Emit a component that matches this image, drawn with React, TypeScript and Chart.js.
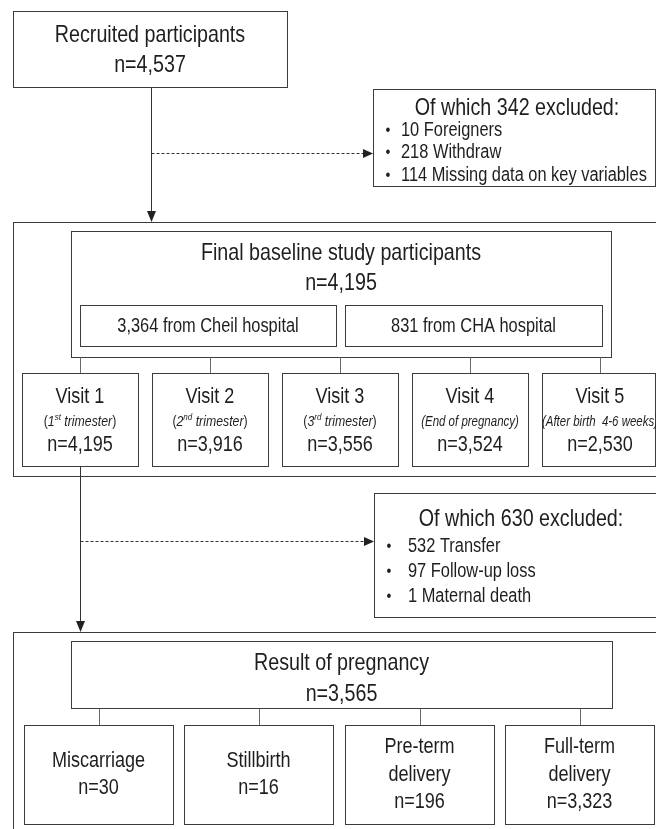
import { useEffect, useRef } from "react";
import { Chart, registerables } from "chart.js";

Chart.register(...registerables);

// ---------------- DATA ----------------
const recruitedTitle = "Recruited participants";
const recruitedCount = 4537;

const excludedFirstCounts = [10, 218, 114];
const excludedFirstReasons = ["Foreigners", "Withdraw", "Missing data on key variables"];

const baselineTitle = "Final baseline study participants";
const baselineCount = 4195;
const hospitalCounts = [3364, 831];
const hospitalNames = ["Cheil hospital", "CHA hospital"];

const visitLabels = ["Visit 1", "Visit 2", "Visit 3", "Visit 4", "Visit 5"];
const visitNotes = ["1^st^ trimester", "2^nd^ trimester", "3^rd^ trimester", "End of pregnancy", "After birth  4-6 weeks"];
const visitCounts = [4195, 3916, 3556, 3524, 2530];

const excludedSecondCounts = [532, 97, 1];
const excludedSecondReasons = ["Transfer", "Follow-up loss", "Maternal death"];

const resultTitle = "Result of pregnancy";
const resultCount = 3565;
const outcomeLabels = [["Miscarriage"], ["Stillbirth"], ["Pre-term", "delivery"], ["Full-term", "delivery"]];
const outcomeCounts = [30, 16, 196, 3323];

// ---------------- LAYOUT / STYLE ----------------
const W = 656;
const H = 829;
const SX = 0.82; // condensed (narrow) text
const FONT = '"Liberation Sans", Arial, sans-serif';
const TEXT = "#1e1e1e";
const BOX = "#3c3c3c";
const CONN = "#6a6a6a";

const L = {
  recruit: [13, 11, 287, 87],
  excl1: [373, 89, 655, 186],
  cont2: [13, 222, 700, 476],
  final: [71, 231, 611, 357],
  hosp: [[80, 305, 336, 346], [345, 305, 602, 346]],
  visitX0: 22, visitStep: 130, visitW: 116, visitY: [373, 466],
  excl2: [374, 493, 700, 617],
  cont3: [13, 632, 700, 900],
  result: [71, 641, 612, 708],
  outX0: [24, 184, 345, 505], outW: 149, outY: [725, 824],
};

const fmt = (n: number) => n.toLocaleString("en-US");
const sum = (a: number[]) => a.reduce((s, v) => s + v, 0);

type Run = { t: string; italic?: boolean; sup?: boolean };

function fontStr(size: number, italic?: boolean) {
  return `${italic ? "italic " : ""}${size}px ${FONT}`;
}

function drawRuns(ctx: CanvasRenderingContext2D, runs: Run[], x: number, y: number, size: number, align: "center" | "left" = "center") {
  const widths = runs.map((r) => {
    ctx.font = fontStr(r.sup ? size * 0.65 : size, r.italic);
    return ctx.measureText(r.t).width * SX;
  });
  const total = sum(widths);
  let cx = align === "center" ? x - total / 2 : x;
  runs.forEach((r, i) => {
    ctx.save();
    ctx.font = fontStr(r.sup ? size * 0.65 : size, r.italic);
    ctx.fillStyle = TEXT;
    ctx.textAlign = "left";
    ctx.textBaseline = "middle";
    ctx.translate(cx, y + (r.sup ? -size * 0.3 : 0));
    ctx.scale(SX, 1);
    ctx.fillText(r.t, 0, 0);
    ctx.restore();
    cx += widths[i];
  });
}

function noteRuns(note: string): Run[] {
  const parts = note.split("^");
  const hasSup = parts.length > 1;
  const runs: Run[] = [{ t: "(", italic: !hasSup }];
  parts.forEach((p, i) => {
    if (p) runs.push({ t: p, italic: true, sup: i % 2 === 1 });
  });
  runs.push({ t: ")", italic: !hasSup });
  return runs;
}

const flowPlugin = {
  id: "flow",
  afterDraw(chart: any) {
    const ctx: CanvasRenderingContext2D = chart.ctx;
    const xs = chart.scales.x;
    const ys = chart.scales.y;
    const px = (v: number) => xs.getPixelForValue(v);
    const py = (v: number) => ys.getPixelForValue(v);
    const c = (v: number) => Math.round(v) + 0.5;

    const rect = (b: number[], color = BOX) => {
      ctx.save();
      ctx.strokeStyle = color;
      ctx.lineWidth = 1;
      const x0 = c(px(b[0])), y0 = c(py(b[1])), x1 = c(px(b[2])), y1 = c(py(b[3]));
      ctx.strokeRect(x0, y0, x1 - x0, y1 - y0);
      ctx.restore();
    };
    const line = (x0: number, y0: number, x1: number, y1: number, color = CONN, dash: number[] = []) => {
      ctx.save();
      ctx.strokeStyle = color;
      ctx.lineWidth = 1;
      ctx.setLineDash(dash);
      ctx.beginPath();
      ctx.moveTo(c(px(x0)), c(py(y0)));
      ctx.lineTo(c(px(x1)), c(py(y1)));
      ctx.stroke();
      ctx.restore();
    };
    const arrowHead = (x: number, y: number, dir: "down" | "right") => {
      ctx.save();
      ctx.fillStyle = "#222";
      ctx.beginPath();
      const X = c(px(x)), Y = py(y);
      if (dir === "down") {
        ctx.moveTo(X, Y);
        ctx.lineTo(X - 4.5, Y - 11);
        ctx.lineTo(X + 4.5, Y - 11);
      } else {
        ctx.moveTo(px(x), c(py(y)));
        ctx.lineTo(px(x) - 10, c(py(y)) - 4.5);
        ctx.lineTo(px(x) - 10, c(py(y)) + 4.5);
      }
      ctx.closePath();
      ctx.fill();
      ctx.restore();
    };
    const text = (s: string, x: number, y: number, size: number, italic = false, align: "center" | "left" = "center") =>
      drawRuns(ctx, [{ t: s, italic }], px(x), py(y), size, align);

    // Recruited
    rect(L.recruit);
    const rcx = (L.recruit[0] + L.recruit[2]) / 2;
    text(recruitedTitle, rcx, 35, 24);
    text(`n=${fmt(recruitedCount)}`, rcx, 65, 24);

    // Arrow 1 + dashed branch
    line(151, L.recruit[3], 151, L.cont2[1] - 10, "#333");
    arrowHead(151, L.cont2[1], "down");
    line(151, 153, L.excl1[0] - 9, 153, "#333", [3, 2]);
    arrowHead(L.excl1[0], 153, "right");

    // Exclusion 1
    rect(L.excl1);
    text(`Of which ${fmt(sum(excludedFirstCounts))} excluded:`, 517, 108, 24);
    excludedFirstCounts.forEach((n, i) => {
      const y = 130 + i * 22.5;
      text("•", 388, y, 17);
      text(`${fmt(n)} ${excludedFirstReasons[i]}`, 401, y, 20, false, "left");
    });

    // Container 2
    rect(L.cont2, BOX);

    // Final baseline
    rect(L.final);
    const fcx = (L.final[0] + L.final[2]) / 2;
    text(baselineTitle, fcx, 253, 24);
    text(`n=${fmt(baselineCount)}`, fcx, 283, 24);
    L.hosp.forEach((b, i) => {
      rect(b);
      text(`${fmt(hospitalCounts[i])} from ${hospitalNames[i]}`, (b[0] + b[2]) / 2, 326, 20);
    });

    // Visits
    visitLabels.forEach((lab, i) => {
      const x0 = L.visitX0 + i * L.visitStep;
      const x1 = Math.min(x0 + L.visitW, 655);
      const cx = x0 + L.visitW / 2;
      line(cx, L.final[3], cx, L.visitY[0]);
      rect([x0, L.visitY[0], x1, L.visitY[1]]);
      text(lab, cx, 397, 22);
      drawRuns(ctx, noteRuns(visitNotes[i]), px(cx), py(422), visitNotes[i].includes("^") ? 15 : 14);
      text(`n=${fmt(visitCounts[i])}`, cx, 445, 22);
    });

    // Arrow 2 + dashed branch
    const v1x = L.visitX0 + L.visitW / 2;
    line(v1x, L.visitY[1], v1x, L.cont3[1] - 10, "#333");
    arrowHead(v1x, L.cont3[1], "down");
    line(v1x, 541, L.excl2[0] - 9, 541, "#333", [3, 2]);
    arrowHead(L.excl2[0], 541, "right");

    // Exclusion 2
    rect(L.excl2);
    text(`Of which ${fmt(sum(excludedSecondCounts))} excluded:`, 521, 519, 24);
    excludedSecondCounts.forEach((n, i) => {
      const y = 546 + i * 25;
      text("•", 389, y, 17);
      text(`${fmt(n)} ${excludedSecondReasons[i]}`, 408, y, 20, false, "left");
    });

    // Container 3
    rect(L.cont3, BOX);

    // Result
    rect(L.result);
    const rcx2 = (L.result[0] + L.result[2]) / 2;
    text(resultTitle, rcx2, 663, 24);
    text(`n=${fmt(resultCount)}`, rcx2, 694, 24);

    outcomeLabels.forEach((labs, i) => {
      const x0 = L.outX0[i];
      const cx = x0 + L.outW / 2;
      line(cx, L.result[3], cx, L.outY[0]);
      rect([x0, L.outY[0], x0 + L.outW, L.outY[1]]);
      const lines = [...labs, `n=${fmt(outcomeCounts[i])}`];
      const step = 27.5;
      const mid = (L.outY[0] + L.outY[1]) / 2;
      lines.forEach((s, k) => {
        text(s, cx, mid + (k - (lines.length - 1) / 2) * step, 22);
      });
    });
  },
  beforeDraw(chart: any) {
    const ctx = chart.ctx;
    ctx.save();
    ctx.fillStyle = "#ffffff";
    ctx.fillRect(0, 0, chart.width, chart.height);
    ctx.restore();
  },
};

export default function App() {
  const ref = useRef<HTMLCanvasElement | null>(null);
  useEffect(() => {
    if (!ref.current) return;
    const chart = new Chart(ref.current, {
      type: "scatter",
      data: { datasets: [{ data: [], pointRadius: 0 }] },
      options: {
        animation: false,
        responsive: false,
        devicePixelRatio: 1,
        layout: { padding: 0 },
        plugins: { legend: { display: false }, tooltip: { enabled: false } },
        scales: {
          x: { type: "linear", min: 0, max: W, display: false },
          y: { type: "linear", min: 0, max: H, reverse: true, display: false },
        },
      },
      plugins: [flowPlugin],
    });
    return () => chart.destroy();
  }, []);
  return (
    <div style={{ position: "absolute", left: 0, top: 0, width: W, height: H, background: "#fff" }}>
      <canvas ref={ref} width={W} height={H} style={{ display: "block", width: W, height: H }} />
    </div>
  );
}
